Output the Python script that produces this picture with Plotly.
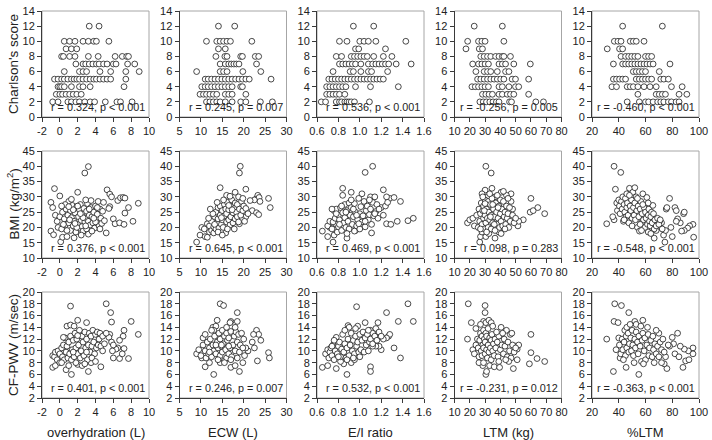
import plotly.graph_objects as go

W, H = 712, 440

# ---------------- labels / axes ----------------
x_titles = ["overhydration (L)", "ECW (L)", "E/I ratio", "LTM (kg)", "%LTM"]
y_titles = ["Charlson's score", "BMI (kg/m<sup>2</sup>)", "CF-PWV (m/sec)"]
x_ranges = [(-2, 10), (5, 30), (0.6, 1.6), (10, 80), (20, 100)]
x_steps = [2, 5, 0.2, 10, 20]
x_decimals = [0, 0, 1, 0, 0]
y_ranges = [(0, 14), (10, 45), (2, 20)]
y_steps = [2, 5, 2]

stats = [
    ["r = 0.324, p < 0.001", "r = 0.245, p = 0.007", "r = 0.536, p < 0.001", "r = -0.256, p = 0.005", "r = -0.460, p < 0.001"],
    ["r = 0.376, p < 0.001", "r = 0.645, p < 0.001", "r = 0.469, p < 0.001", "r = 0.098, p = 0.283", "r = -0.548, p < 0.001"],
    ["r = 0.401, p < 0.001", "r = 0.246, p = 0.007", "r = 0.532, p < 0.001", "r = -0.231, p = 0.012", "r = -0.363, p < 0.001"],
]

# ---------------- row 1: Charlson's score (integer levels) ----------------
cci_levels = [12, 10, 9, 8, 7, 6, 5, 4, 3, 2]

oh_by_cci = [
    [3.3, 4.4],
    [0.5, 1.1, 1.7, 2.6, 3.2, 3.8, 4.1, 5.5],
    [0.7, 1.3, 1.9],
    [0.2, 0.4, 1.1, 1.7, 3.2, 4.3, 6.2, 7.0, 7.5, 7.7],
    [1.8, 2.6, 2.9, 3.3, 3.7, 4.1, 4.4, 4.9, 5.3, 6.0, 6.3, 7.6, 8.4],
    [0.5, 2.2, 2.6, 3.0, 4.5, 5.7, 7.4, 8.9],
    [-0.6, -0.2, 0.2, 0.5, 0.9, 1.3, 1.6, 1.9, 2.2, 2.6, 3.0, 3.4, 3.8, 4.1, 4.5, 4.9, 5.3, 5.7, 7.4],
    [-0.2, 0.0, 0.2, 0.5, 1.3, 2.2, 2.6, 3.4, 7.2],
    [-0.4, 0.0, 0.3, 0.7, 1.1, 1.5, 1.9, 2.4],
    [-0.8, -0.2, 0.9, 1.3, 1.8, 2.2, 2.8, 3.4, 3.9, 5.1, 6.4, 6.8, 8.1],
]

ecw_by_cci = [
    [14.1, 17.9],
    [11.3, 13.7, 14.5, 15.3, 16.1, 16.9, 21.9],
    [14.1, 15.7],
    [13.5, 15.6, 16.1, 19.3, 19.7, 22.7, 23.5],
    [14.5, 15.7, 16.5, 17.1, 17.7, 18.3, 18.9, 23.0],
    [9.0, 14.5, 15.3, 16.1, 19.8, 24.0],
    [11.0, 11.7, 12.5, 13.3, 14.1, 14.9, 15.7, 16.5, 17.3, 18.1, 18.9, 19.7, 20.5, 21.3, 26.4],
    [10.2, 11.0, 11.7, 12.5, 13.3, 14.1, 14.9, 15.7, 16.5, 17.3, 19.3, 19.7],
    [9.8, 10.6, 11.3, 12.1, 12.9, 13.7, 15.7, 16.5, 17.3, 20.5],
    [11.3, 12.1, 12.9, 13.7, 14.5, 15.7, 17.3, 19.3, 20.5, 23.9, 26.7],
]

ei_by_cci = [
    [0.94, 1.13],
    [0.81, 0.88, 1.00, 1.04, 1.08, 1.15, 1.43],
    [0.96, 0.99, 1.24],
    [0.78, 0.83, 0.92, 0.95, 0.98, 1.01, 1.04, 1.07, 1.13, 1.22, 1.30],
    [0.81, 0.84, 0.87, 0.90, 0.93, 0.96, 1.01, 1.08, 1.12, 1.15, 1.18, 1.21, 1.24, 1.27, 1.34, 1.48],
    [0.75, 0.91, 0.94, 1.01, 1.08, 1.11, 1.26],
    [0.71, 0.74, 0.77, 0.80, 0.83, 0.86, 0.89, 0.92, 0.95, 0.98, 1.01, 1.04, 1.07, 1.10, 1.13, 1.16, 1.19, 1.22],
    [0.69, 0.72, 0.75, 0.78, 0.81, 0.84, 0.87, 0.96, 1.10, 1.36],
    [0.69, 0.72, 0.75, 0.78, 0.81, 0.86],
    [0.64, 0.68, 0.78, 0.81, 0.83, 0.86, 0.88, 0.90, 0.92, 0.95, 1.09],
]

ltm_by_cci = [
    [22.9, 41.3],
    [18.6, 25.7, 27.9, 30.0, 42.3],
    [17.5, 26.2, 28.3],
    [27.2, 29.4, 31.6, 33.7, 36.9, 39.1, 41.3, 42.3, 46.6],
    [21.9, 25.7, 27.9, 30.0, 32.2, 39.1, 41.3, 43.4, 48.8, 59.6],
    [24.0, 29.4, 31.6, 33.7, 38.0, 43.4, 45.6],
    [25.1, 27.2, 29.4, 31.6, 33.7, 35.9, 38.0, 40.2, 42.3, 47.7, 49.9, 58.5],
    [21.4, 23.6, 25.7, 27.9, 30.0, 32.2, 39.1, 41.3, 45.6, 49.9, 52.0],
    [28.3, 30.5, 32.6, 34.8, 39.1, 41.3, 44.5, 46.6, 48.8, 58.5],
    [26.6, 28.8, 30.9, 33.1, 35.2, 37.4, 39.1, 46.0, 47.3, 63.2, 68.2],
]

pltm_by_cci = [
    [42.9, 72.6],
    [36.7, 39.4, 41.7, 48.6, 50.9, 53.1, 58.9],
    [31.4, 40.6, 42.9],
    [41.7, 45.1, 47.4, 49.7, 52.0, 54.3, 60.0, 62.3, 64.6],
    [36.0, 42.9, 45.1, 47.4, 49.7, 52.0, 54.3, 56.6, 58.9, 61.1, 63.4, 65.7, 78.3],
    [50.9, 53.1, 55.4, 57.7, 60.0, 70.3],
    [36.0, 38.3, 40.6, 42.9, 45.1, 53.1, 55.4, 57.7, 60.0, 62.3, 64.6, 71.4, 73.7, 77.1],
    [34.9, 38.3, 46.3, 48.6, 50.9, 54.3, 58.9, 63.4, 68.0, 79.4, 87.4],
    [54.3, 68.0, 70.3, 72.6, 74.9, 85.1, 90.9],
    [46.3, 55.4, 60.0, 62.3, 65.7, 69.1, 71.4, 73.7, 77.1, 79.4, 82.9, 85.1],
]

# ---------------- row 2: BMI ----------------
bmi_vs_oh = [
    (3.2, 39.9), (2.8, 37.8),
    (-0.6, 32.7), (2.0, 31.5), (0.0, 30.3), (5.3, 32.3), (5.6, 30.9), (5.8, 30.0), (6.5, 28.8), (6.8, 29.7),
    (7.1, 29.8), (7.3, 29.6), (8.8, 27.9), (7.7, 26.5), (5.6, 26.8), (5.5, 26.2), (7.3, 24.7), (6.0, 22.8),
    (6.2, 21.2), (6.7, 21.5), (7.2, 21.0), (8.2, 22.0), (5.2, 18.2),
    (-1.0, 28.2), (-0.8, 26.5), (-1.0, 18.8), (-0.7, 17.6), (-0.5, 24.0), (-0.3, 22.0), (-0.2, 20.0),
    (0.0, 23.5), (0.2, 19.5), (0.1, 15.3), (0.3, 16.8), (0.8, 17.0), (1.6, 16.6),
    (0.3, 25.0), (0.5, 22.8), (0.6, 20.8), (0.7, 26.0), (0.9, 24.0), (1.0, 28.5), (1.0, 21.5), (1.2, 19.0),
    (1.2, 25.5), (1.3, 23.2), (1.4, 27.2), (1.5, 20.5), (1.6, 22.0), (1.7, 24.8), (1.8, 18.5), (1.9, 26.8),
    (2.0, 21.0), (2.1, 23.5), (2.2, 19.8), (2.2, 25.8), (2.3, 27.5), (2.4, 22.3), (2.5, 20.3), (2.5, 24.5),
    (2.6, 18.8), (2.7, 26.2), (2.8, 21.8), (2.9, 23.0), (3.0, 25.3), (3.0, 19.5), (3.1, 27.8), (3.2, 22.0),
    (3.3, 24.0), (3.4, 20.8), (3.5, 26.5), (3.5, 28.8), (3.6, 23.5), (3.7, 21.5), (3.8, 25.0), (3.9, 19.8),
    (4.0, 27.0), (4.1, 22.8), (4.2, 24.3), (4.3, 28.5), (4.4, 20.5), (4.5, 26.0), (4.6, 23.0), (4.7, 21.3),
    (4.8, 25.3), (4.9, 28.2), (5.0, 22.2), (0.4, 21.0), (0.6, 27.5), (0.8, 19.0), (1.1, 22.5), (1.5, 25.8),
    (1.9, 20.0), (2.0, 27.0), (2.4, 17.5), (2.6, 23.2), (2.9, 20.5), (3.2, 17.8), (3.3, 26.0), (3.6, 18.8),
    (4.0, 21.8), (4.2, 26.5), (1.3, 29.2), (2.9, 29.0), (1.0, 26.8), (0.2, 27.0), (3.8, 23.0), (2.3, 24.5),
    (1.7, 21.3), (4.5, 19.5),
]

bmi_vs_ecw = [
    (19.2, 40.0), (19.0, 37.8), (14.5, 33.0), (18.0, 31.5), (20.5, 32.5), (16.0, 30.5),
    (23.0, 29.5), (23.3, 30.5), (23.6, 29.8), (23.8, 28.5), (22.5, 29.0), (21.5, 28.8), (25.8, 29.5),
    (26.2, 26.5), (22.0, 25.5), (23.0, 24.8), (23.5, 24.2), (20.5, 23.5), (19.5, 22.8),
    (9.0, 15.2), (9.8, 17.5), (10.2, 20.0), (10.8, 19.5), (11.0, 17.0), (11.5, 16.8), (11.5, 21.2),
    (12.0, 18.5), (12.0, 20.5), (12.5, 19.0), (12.5, 22.0), (13.0, 18.2), (13.0, 20.2), (13.2, 23.5),
    (13.5, 19.5), (13.5, 25.0), (13.8, 21.5), (14.0, 22.8), (14.0, 26.5), (14.2, 19.8), (14.5, 24.0),
    (14.5, 27.0), (14.8, 21.0), (15.0, 22.5), (15.0, 25.5), (15.2, 20.0), (15.5, 23.8), (15.5, 27.5),
    (15.8, 18.2), (15.8, 26.0), (16.0, 21.8), (16.0, 24.5), (16.2, 28.2), (16.5, 22.5), (16.5, 25.8),
    (16.8, 20.8), (17.0, 23.5), (17.0, 27.0), (17.2, 29.0), (17.5, 21.5), (17.5, 24.8), (17.8, 26.2),
    (18.0, 22.8), (18.0, 28.0), (18.3, 25.0), (18.5, 23.5), (18.5, 27.5), (18.8, 30.0), (19.0, 21.2),
    (19.0, 26.0), (19.3, 24.0), (19.5, 28.5), (19.8, 25.5), (20.0, 27.0), (20.2, 22.0), (20.5, 26.2),
    (21.0, 24.5), (14.0, 18.5), (13.2, 21.0), (12.8, 24.5), (15.3, 29.0), (16.8, 30.2), (17.8, 19.5),
    (18.8, 21.8), (11.8, 23.0), (13.8, 28.2), (16.2, 19.5), (17.3, 25.8), (14.8, 23.2), (19.8, 29.5),
    (15.0, 17.5), (16.5, 27.2), (12.2, 26.0),
]

bmi_vs_ei = [
    (1.05, 38.0), (1.12, 40.0),
    (0.84, 32.8), (0.92, 31.5), (0.84, 30.5), (1.22, 32.3), (1.02, 31.0), (1.10, 30.0), (1.14, 30.0),
    (1.28, 29.5), (1.25, 30.0), (1.32, 29.8), (1.38, 28.5),
    (1.35, 22.0), (1.45, 22.2), (1.50, 23.0), (1.25, 21.2), (1.29, 21.0), (1.22, 24.0), (1.20, 26.5),
    (1.24, 27.0), (1.26, 28.2),
    (0.65, 18.8), (0.70, 17.0), (0.72, 20.0), (0.75, 15.2), (0.76, 17.5), (0.78, 21.0), (0.88, 16.5),
    (1.11, 18.2), (0.96, 19.0),
    (0.70, 20.5), (0.72, 22.0), (0.74, 19.5), (0.75, 21.8), (0.76, 25.5), (0.77, 23.0), (0.78, 26.0),
    (0.79, 18.5), (0.80, 24.0), (0.80, 20.2), (0.81, 22.5), (0.82, 26.5), (0.83, 19.0), (0.84, 24.8),
    (0.85, 21.5), (0.86, 27.5), (0.86, 23.2), (0.87, 20.0), (0.88, 25.5), (0.89, 22.0), (0.90, 28.0),
    (0.90, 19.5), (0.91, 24.0), (0.92, 26.5), (0.93, 21.0), (0.94, 23.5), (0.95, 27.8), (0.96, 25.0),
    (0.97, 20.5), (0.98, 22.5), (0.99, 29.5), (1.00, 24.5), (1.01, 26.8), (1.02, 21.8), (1.03, 23.8),
    (1.04, 28.5), (1.05, 20.2), (1.06, 25.5), (1.07, 27.0), (1.08, 22.5), (1.09, 24.2), (1.10, 26.0),
    (1.11, 21.0), (1.12, 28.2), (1.13, 23.8), (1.15, 25.2), (1.16, 27.5), (1.17, 23.0), (1.18, 26.0),
    (0.83, 27.0), (0.88, 18.0), (0.95, 18.8), (1.00, 19.5), (0.92, 29.0), (0.78, 24.5), (0.74, 26.0),
    (0.97, 24.0), (1.05, 22.0), (0.87, 25.0), (1.09, 29.0), (0.81, 21.0), (1.14, 24.5), (0.94, 26.0),
    (0.99, 21.2),
]

bmi_vs_ltm = [
    (30.5, 40.0), (34.0, 37.8),
    (34.5, 32.8), (30.0, 32.2), (40.5, 31.5), (28.0, 31.0), (31.5, 30.0), (47.0, 31.0), (36.5, 30.0), (44.0, 30.5),
    (60.0, 29.5), (59.5, 25.0), (61.5, 25.5), (64.5, 26.5), (69.0, 24.5), (55.0, 22.5), (51.5, 20.5),
    (52.0, 22.0), (48.0, 26.0),
    (18.5, 21.5), (20.0, 22.5), (22.0, 23.0), (23.0, 20.5), (24.5, 24.0), (25.5, 20.0), (26.5, 15.2),
    (27.0, 17.0), (28.0, 18.5), (30.5, 17.0), (32.5, 18.0), (36.5, 16.5), (39.0, 18.5),
    (26.0, 26.0), (26.5, 22.0), (27.0, 24.5), (27.5, 28.0), (28.0, 21.0), (28.5, 25.5), (29.0, 23.0),
    (29.0, 27.0), (29.5, 19.5), (30.0, 24.0), (30.0, 29.0), (30.5, 21.5), (31.0, 26.0), (31.5, 23.0),
    (32.0, 28.5), (32.0, 20.0), (32.5, 25.0), (33.0, 22.5), (33.5, 27.5), (34.0, 24.0), (34.0, 19.5),
    (34.5, 29.5), (35.0, 21.5), (35.5, 26.0), (36.0, 23.5), (36.5, 19.0), (37.0, 28.0), (37.5, 25.0),
    (38.0, 21.0), (38.5, 23.0), (39.0, 27.0), (39.5, 20.0), (40.0, 29.0), (40.0, 24.5), (40.5, 22.0),
    (41.0, 26.0), (41.5, 20.5), (42.0, 28.5), (42.5, 23.5), (43.0, 25.0), (43.5, 21.0), (44.0, 27.0),
    (44.5, 23.0), (45.0, 24.5), (45.5, 20.0), (46.0, 26.5), (46.5, 22.0), (47.0, 28.5), (48.0, 24.0),
    (49.0, 21.5), (50.0, 23.0), (28.5, 30.0), (33.0, 31.0), (38.0, 30.5), (42.0, 31.8), (35.0, 27.5),
    (29.5, 25.5), (31.0, 18.5), (36.0, 21.0), (43.0, 19.5), (27.0, 19.5), (33.5, 23.5), (38.5, 26.5),
    (45.0, 29.5), (30.0, 27.8), (40.5, 18.0),
]

bmi_vs_pltm = [
    (36.5, 40.0), (41.5, 38.0), (37.5, 32.5), (31.0, 21.2), (36.5, 22.5), (35.5, 23.5),
    (95.5, 21.0), (93.0, 20.5), (91.5, 19.8), (96.0, 16.8), (89.0, 19.0), (87.0, 18.8), (88.5, 24.5),
    (89.0, 25.0), (86.0, 21.5), (84.0, 22.8), (83.0, 22.0), (82.0, 26.5), (83.0, 25.5), (80.0, 17.0),
    (79.0, 20.0), (78.0, 29.5), (75.5, 26.0), (76.0, 26.5), (74.5, 15.2), (73.5, 17.5), (75.0, 19.0),
    (72.0, 21.5), (70.0, 20.0), (70.5, 22.0), (68.0, 19.0), (66.5, 16.5), (62.0, 18.5),
    (38.5, 28.0), (39.0, 25.5), (40.0, 29.0), (40.5, 27.0), (41.0, 24.5), (42.0, 28.5), (42.5, 26.0),
    (43.0, 30.0), (43.5, 22.0), (44.0, 27.5), (44.5, 25.0), (45.0, 29.5), (45.5, 23.5), (46.0, 26.5),
    (46.5, 28.0), (47.0, 24.0), (47.5, 21.5), (48.0, 32.8), (48.5, 27.0), (49.0, 25.5), (49.5, 29.0),
    (50.0, 23.0), (50.0, 20.5), (50.5, 31.5), (51.0, 26.5), (51.5, 24.0), (52.0, 28.0), (52.5, 22.5),
    (53.0, 30.0), (53.5, 25.5), (54.0, 20.0), (54.5, 27.0), (55.0, 23.5), (55.5, 18.8), (56.0, 26.0),
    (56.5, 28.5), (57.0, 21.5), (57.5, 24.5), (58.0, 31.0), (58.5, 22.5), (59.0, 26.5), (59.5, 20.0),
    (60.0, 25.0), (60.5, 23.0), (61.0, 29.8), (61.5, 21.0), (62.0, 24.0), (62.5, 26.0), (63.0, 22.0),
    (63.5, 20.5), (64.0, 23.5), (64.5, 25.0), (65.0, 21.5), (65.5, 27.2), (66.0, 24.5), (66.5, 19.5),
    (67.0, 22.5), (68.0, 20.5), (69.0, 23.0), (70.0, 21.0), (71.0, 22.5), (72.5, 19.5), (46.0, 31.0),
    (44.0, 22.5), (56.0, 21.0), (52.0, 33.0), (48.0, 30.5), (58.0, 27.5), (62.0, 28.0), (54.0, 29.5),
    (57.0, 19.0), (64.0, 18.0),
]

# ---------------- row 3: CF-PWV ----------------
pwv_vs_oh = [
    (1.2, 17.6), (5.2, 18.0), (5.7, 16.5), (5.8, 14.9), (8.0, 15.0), (8.8, 12.8), (2.0, 15.2), (3.0, 14.8),
    (0.8, 14.2), (1.2, 14.4), (1.6, 14.2),
    (6.0, 8.8), (6.7, 8.7), (7.7, 8.7), (7.2, 10.4), (7.0, 9.5), (6.5, 10.5), (7.2, 13.5), (7.1, 12.5),
    (6.7, 11.8), (6.3, 10.3), (5.6, 12.8), (5.5, 12.3), (5.8, 11.5), (5.9, 10.0), (6.0, 11.0),
    (4.6, 7.3), (3.2, 6.5), (1.3, 6.0), (0.7, 6.8), (-0.8, 7.2), (-0.5, 7.5), (2.0, 7.7), (1.8, 8.0),
    (3.5, 8.0), (2.5, 7.5),
    (-0.8, 9.2), (-0.6, 9.0), (-0.5, 9.8), (-0.3, 8.5), (-0.2, 10.0), (0.0, 9.5), (0.0, 8.0), (0.2, 10.5),
    (0.3, 9.0), (0.4, 11.0), (0.5, 8.5), (0.6, 12.2), (0.7, 9.8), (0.8, 10.8), (0.9, 8.8), (1.0, 11.5),
    (1.1, 9.5), (1.2, 12.5), (1.3, 8.5), (1.4, 10.2), (1.5, 11.8), (1.6, 9.0), (1.7, 13.0), (1.8, 10.5),
    (1.9, 12.0), (2.0, 9.5), (2.1, 11.0), (2.2, 13.5), (2.3, 8.8), (2.4, 10.0), (2.5, 12.5), (2.6, 11.5),
    (2.7, 9.2), (2.8, 13.2), (2.9, 10.5), (3.0, 12.0), (3.1, 8.5), (3.2, 11.0), (3.3, 13.0), (3.4, 9.8),
    (3.5, 12.5), (3.6, 10.8), (3.7, 13.5), (3.8, 11.5), (3.9, 9.5), (4.0, 12.8), (4.1, 10.5), (4.2, 13.2),
    (4.3, 11.0), (4.4, 12.0), (4.5, 13.0), (4.6, 10.8), (4.8, 12.5), (5.0, 11.2), (5.2, 13.0), (0.4, 12.3),
    (1.0, 7.5), (2.8, 7.8), (3.6, 8.8), (4.8, 10.0), (0.2, 8.0), (1.5, 9.8), (2.0, 12.6), (3.0, 9.8),
    (4.0, 8.2),
]

pwv_vs_ecw = [
    (14.5, 18.0), (15.3, 17.7), (18.5, 16.5), (18.5, 15.0), (17.0, 15.0), (16.8, 14.8), (13.8, 15.2),
    (12.8, 14.0), (13.5, 14.2),
    (23.0, 13.5), (23.5, 12.8), (23.2, 8.3), (25.8, 9.7), (26.0, 8.8), (24.0, 11.8), (22.3, 12.8),
    (22.5, 10.5), (22.0, 11.5), (21.0, 10.0), (20.5, 10.5),
    (13.0, 6.0), (19.0, 6.5), (17.0, 7.2), (11.0, 7.3), (12.0, 8.0), (10.2, 8.8), (14.5, 8.0), (15.5, 8.3),
    (19.8, 8.0), (18.0, 7.5),
    (9.0, 9.5), (9.5, 10.2), (10.0, 9.2), (10.5, 11.0), (10.5, 12.2), (11.0, 10.0), (11.2, 8.8),
    (11.5, 11.5), (11.8, 9.5), (12.0, 10.5), (12.2, 12.0), (12.5, 9.0), (12.8, 11.0), (13.0, 10.0),
    (13.2, 12.5), (13.5, 9.5), (13.8, 11.5), (14.0, 10.5), (14.2, 13.0), (14.5, 9.2), (14.5, 12.0),
    (14.8, 10.8), (15.0, 13.5), (15.0, 9.8), (15.2, 11.2), (15.5, 12.5), (15.8, 10.2), (16.0, 13.0),
    (16.0, 8.8), (16.2, 11.8), (16.5, 9.5), (16.5, 12.2), (16.8, 10.5), (17.0, 13.3), (17.2, 9.0),
    (17.5, 11.0), (17.8, 12.5), (18.0, 10.0), (18.2, 13.2), (18.5, 11.5), (18.5, 8.8), (18.8, 12.8),
    (19.0, 9.8), (19.2, 11.0), (19.5, 13.0), (19.8, 10.5), (20.0, 12.0), (20.2, 9.2), (13.0, 13.5),
    (14.0, 8.5), (16.0, 14.0), (17.0, 8.5), (11.0, 12.8), (12.5, 13.5), (15.5, 8.0), (18.0, 14.0),
    (14.8, 11.0), (16.5, 10.8), (12.0, 9.8), (13.5, 11.0),
]

pwv_vs_ei = [
    (0.97, 17.5), (1.45, 18.0), (1.50, 15.0), (1.36, 15.0), (1.25, 16.5), (1.17, 14.8), (0.89, 14.3),
    (0.90, 14.0), (0.98, 14.2), (1.05, 14.8), (1.10, 13.5), (1.15, 13.8), (1.12, 13.0),
    (1.38, 8.8), (1.32, 10.5), (1.27, 12.5), (1.28, 12.8), (1.25, 12.2), (1.22, 12.0), (1.20, 10.2),
    (1.18, 10.8), (1.15, 10.8), (1.12, 10.8),
    (1.10, 7.3), (1.10, 6.5), (0.88, 6.0), (0.65, 7.2), (0.70, 7.5), (0.78, 7.0), (0.85, 7.8), (0.92, 8.0),
    (0.95, 8.5), (0.82, 8.2),
    (0.68, 9.5), (0.70, 10.2), (0.71, 8.8), (0.72, 9.8), (0.73, 10.5), (0.74, 9.2), (0.75, 11.0),
    (0.76, 8.5), (0.77, 10.0), (0.78, 12.3), (0.79, 9.5), (0.80, 10.8), (0.81, 11.5), (0.82, 9.0),
    (0.83, 10.3), (0.84, 12.8), (0.85, 9.8), (0.86, 11.2), (0.87, 8.8), (0.88, 10.5), (0.89, 12.0),
    (0.90, 9.2), (0.91, 11.0), (0.92, 13.0), (0.93, 10.0), (0.94, 11.8), (0.95, 9.5), (0.96, 12.5),
    (0.97, 10.8), (0.98, 11.5), (0.99, 9.8), (1.00, 12.8), (1.01, 10.2), (1.02, 11.8), (1.03, 13.2),
    (1.04, 9.8), (1.05, 12.2), (1.06, 11.0), (1.07, 12.8), (1.08, 10.0), (1.09, 11.5), (1.10, 12.0),
    (1.12, 11.2), (1.14, 12.5), (1.16, 11.8), (1.18, 13.2), (1.20, 12.5), (0.76, 11.8), (0.80, 9.0),
    (0.88, 8.5), (0.94, 8.8), (1.00, 9.0), (0.86, 13.5), (0.96, 13.8), (1.08, 13.5), (0.74, 10.8),
]

pwv_vs_ltm = [
    (19.0, 18.0), (30.0, 17.7), (30.0, 16.5), (29.0, 15.0), (30.5, 14.8), (32.5, 15.2), (34.0, 14.8),
    (21.0, 14.8), (24.0, 13.8), (18.5, 12.0),
    (60.0, 12.8), (60.0, 9.7), (64.0, 8.7), (69.0, 8.2), (59.0, 7.8), (51.0, 8.5), (48.5, 7.0),
    (50.0, 10.8), (51.0, 10.3), (52.0, 11.0),
    (30.5, 6.0), (31.0, 6.5), (28.5, 7.5), (33.0, 7.5), (36.0, 7.3), (39.5, 7.2), (26.0, 8.0), (29.0, 8.0),
    (22.0, 10.2), (23.0, 9.5), (24.0, 11.0), (25.0, 12.0), (25.5, 10.5), (26.0, 9.0), (26.5, 11.8),
    (27.0, 13.0), (27.5, 10.0), (28.0, 12.5), (28.0, 9.2), (28.5, 11.0), (29.0, 13.5), (29.0, 10.5),
    (29.5, 12.0), (30.0, 9.5), (30.0, 11.5), (30.5, 13.0), (31.0, 10.2), (31.0, 12.5), (31.5, 8.8),
    (32.0, 11.0), (32.0, 13.8), (32.5, 9.8), (33.0, 12.2), (33.5, 10.5), (34.0, 11.8), (34.0, 8.5),
    (34.5, 12.8), (35.0, 10.0), (35.5, 11.2), (36.0, 9.2), (36.5, 12.0), (37.0, 10.5), (38.0, 11.5),
    (38.5, 9.0), (39.0, 12.5), (40.0, 10.2), (40.5, 14.0), (41.0, 11.0), (42.0, 9.5), (42.5, 12.0),
    (43.0, 10.8), (44.0, 13.5), (44.5, 9.0), (45.0, 11.5), (46.0, 10.0), (46.5, 12.8), (47.0, 8.8),
    (48.0, 11.0), (49.0, 9.8), (50.0, 10.5), (41.5, 13.0), (37.5, 13.2), (45.5, 8.2), (43.5, 8.5),
    (27.0, 14.5), (35.0, 14.2), (39.0, 8.2), (47.5, 13.0),
]

pwv_vs_pltm = [
    (37.0, 18.0), (42.0, 17.7), (47.5, 16.5), (36.5, 15.0), (39.5, 14.8), (52.0, 15.0), (58.0, 15.2),
    (53.0, 14.5), (44.5, 13.5), (46.0, 14.0),
    (31.0, 12.0), (36.0, 6.5), (55.0, 6.0), (45.5, 7.2), (38.0, 10.2), (41.0, 8.8), (40.0, 12.2),
    (95.5, 10.5), (95.5, 9.5), (92.0, 10.0), (89.0, 10.3), (88.0, 7.2), (90.0, 8.3), (92.5, 8.5),
    (84.0, 13.0), (80.0, 12.3), (81.0, 11.2), (82.0, 9.5), (85.0, 9.0), (86.0, 10.8), (78.0, 10.8),
    (76.0, 7.0), (74.0, 7.8), (72.0, 8.0), (75.0, 9.0), (77.0, 11.0), (70.0, 13.0), (68.0, 13.5),
    (40.5, 11.0), (41.5, 9.5), (42.5, 12.0), (43.0, 10.2), (44.0, 11.5), (45.0, 9.2), (45.5, 12.5),
    (46.0, 10.5), (47.0, 13.0), (47.5, 9.8), (48.0, 11.2), (49.0, 12.2), (49.5, 10.0), (50.0, 13.5),
    (50.5, 11.0), (51.0, 9.2), (52.0, 12.0), (52.5, 10.5), (53.0, 13.2), (54.0, 11.5), (54.5, 9.5),
    (55.0, 12.5), (56.0, 10.8), (57.0, 8.2), (57.5, 11.8), (58.0, 13.0), (59.0, 10.0), (59.5, 12.2),
    (60.0, 8.5), (61.0, 11.0), (62.0, 12.8), (62.5, 9.2), (63.0, 10.5), (64.0, 11.8), (65.0, 9.0),
    (65.5, 12.5), (66.0, 10.2), (67.0, 11.2), (68.0, 9.5), (69.0, 10.8), (70.0, 9.0), (71.0, 11.5),
    (72.0, 10.2), (73.0, 12.0), (74.0, 9.8), (48.5, 14.5), (56.5, 14.2), (61.5, 14.0), (43.5, 8.5),
    (51.5, 8.0), (58.5, 7.8), (66.5, 8.0),
]


# ---------------- assemble panel data ----------------
def from_levels(levels, xs_by_level):
    xs, ys = [], []
    for lev, xl in zip(levels, xs_by_level):
        xs.extend(xl)
        ys.extend([lev] * len(xl))
    return xs, ys


def from_pairs(pairs):
    return [p[0] for p in pairs], [p[1] for p in pairs]


panel_data = [
    [from_levels(cci_levels, oh_by_cci), from_levels(cci_levels, ecw_by_cci),
     from_levels(cci_levels, ei_by_cci), from_levels(cci_levels, ltm_by_cci),
     from_levels(cci_levels, pltm_by_cci)],
    [from_pairs(bmi_vs_oh), from_pairs(bmi_vs_ecw), from_pairs(bmi_vs_ei),
     from_pairs(bmi_vs_ltm), from_pairs(bmi_vs_pltm)],
    [from_pairs(pwv_vs_oh), from_pairs(pwv_vs_ecw), from_pairs(pwv_vs_ei),
     from_pairs(pwv_vs_ltm), from_pairs(pwv_vs_pltm)],
]

# ---------------- layout geometry (pixels) ----------------
col_left = [42, 179.5, 317, 454.5, 592]
col_w = 107
row_tb = [(11, 117), (151, 258), (292, 398)]

FONT = "Liberation Sans, Arial, sans-serif"
AX = "#3a3a3a"
FRAME = "#a6a6a6"

fig = go.Figure()
layout = {}
shapes = []
annotations = []


def ticks(lo, hi, step, dec):
    n = int(round((hi - lo) / step))
    vals = [round(lo + i * step, 6) for i in range(n + 1)]
    txt = [f"{v:.{dec}f}" for v in vals]
    return vals, txt


for r in range(3):
    for c in range(5):
        k = r * 5 + c + 1
        sfx = "" if k == 1 else str(k)
        xs, ys = panel_data[r][c]
        fig.add_trace(go.Scatter(
            x=xs, y=ys, mode="markers", xaxis="x" + sfx, yaxis="y" + sfx,
            marker=dict(symbol="circle", size=5.8, color="white",
                        line=dict(color="#1c1c1c", width=0.8)),
            showlegend=False, hoverinfo="skip",
        ))
        x0 = col_left[c] / W
        x1 = (col_left[c] + col_w) / W
        top, bot = row_tb[r]
        y0 = 1 - bot / H
        y1 = 1 - top / H
        xv, xt = ticks(x_ranges[c][0], x_ranges[c][1], x_steps[c], x_decimals[c])
        yv, yt = ticks(y_ranges[r][0], y_ranges[r][1], y_steps[r], 0)
        common = dict(showgrid=False, zeroline=False, showline=True, linecolor=AX, linewidth=1,
                      ticks="outside", ticklen=4, tickwidth=1, tickcolor=AX, mirror=False,
                      automargin=False,
                      tickfont=dict(family=FONT, size=11, color="#222"), fixedrange=True)
        layout["xaxis" + sfx] = dict(domain=[x0, x1], range=list(x_ranges[c]), anchor="y" + sfx,
                                     tickmode="array", tickvals=xv, ticktext=xt, **common)
        layout["yaxis" + sfx] = dict(domain=[y0, y1], range=list(y_ranges[r]), anchor="x" + sfx,
                                     tickmode="array", tickvals=yv, ticktext=yt, **common)
        shapes.append(dict(type="rect", xref=f"x{sfx} domain", yref=f"y{sfx} domain",
                           x0=0, x1=1, y0=0, y1=1, line=dict(color=FRAME, width=1), layer="below"))
        annotations.append(dict(text=stats[r][c], xref=f"x{sfx} domain", yref=f"y{sfx} domain",
                                x=0.985, y=0.015, xanchor="right", yanchor="bottom", showarrow=False,
                                font=dict(family=FONT, size=10.8, color="#222")))

# y-axis titles
for r in range(3):
    top, bot = row_tb[r]
    annotations.append(dict(text=y_titles[r], xref="paper", yref="paper", x=13 / W,
                            y=1 - (top + bot) / 2 / H, textangle=-90, showarrow=False,
                            xanchor="center", yanchor="middle",
                            font=dict(family=FONT, size=13.5, color="#222")))
# x-axis titles
for c in range(5):
    annotations.append(dict(text=x_titles[c], xref="paper", yref="paper",
                            x=(col_left[c] + col_w / 2) / W, y=1 - 432 / H, showarrow=False,
                            xanchor="center", yanchor="middle",
                            font=dict(family=FONT, size=13, color="#222")))

fig.update_layout(
    width=W, height=H, margin=dict(l=0, r=0, t=0, b=0, autoexpand=False),
    paper_bgcolor="white", plot_bgcolor="white",
    shapes=shapes, annotations=annotations, **layout,
)

fig.write_html("out.html", config={"displayModeBar": False},
               post_script="document.body.style.margin='0px';document.body.style.overflow='hidden';")
